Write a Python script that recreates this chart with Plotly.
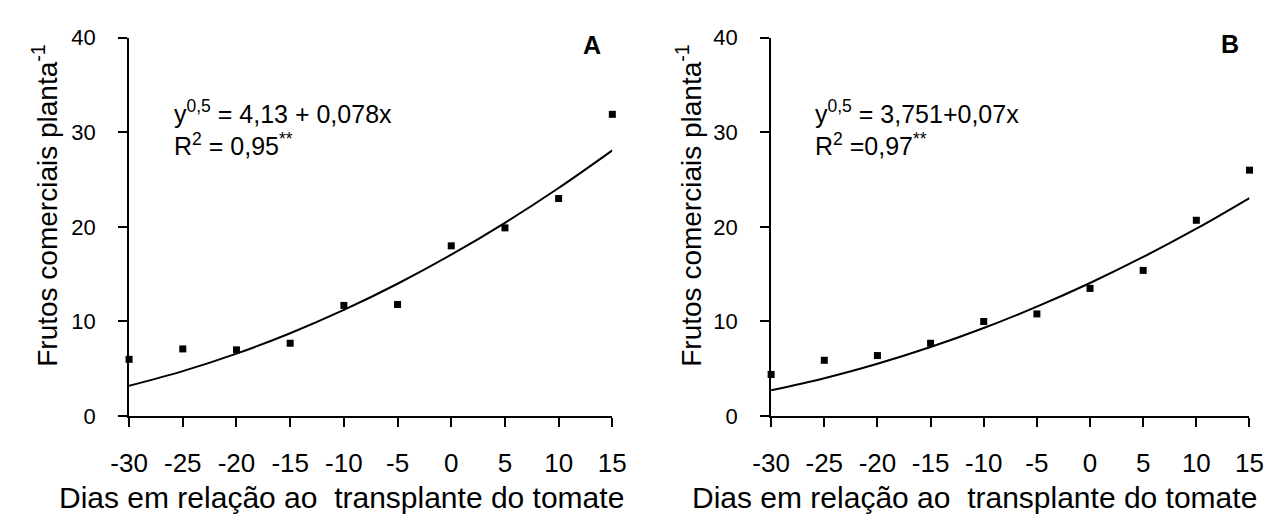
import plotly.graph_objects as go

# ---- data ----
dias = [-30, -25, -20, -15, -10, -5, 0, 5, 10, 15]
frutos_A = [6.0, 7.1, 7.0, 7.7, 11.7, 11.8, 18.0, 19.9, 23.0, 31.9]
frutos_B = [4.4, 5.9, 6.4, 7.7, 10.0, 10.8, 13.5, 15.4, 20.7, 26.0]
# fitted curve values read along the regression line of each panel
ajuste_A = [3.20, 4.75, 6.60, 8.76, 11.22, 13.99, 17.06, 20.43, 24.11, 28.09]
ajuste_B = [2.73, 4.00, 5.53, 7.30, 9.31, 11.57, 14.07, 16.82, 19.81, 23.05]
x_ticks = [-30, -25, -20, -15, -10, -5, 0, 5, 10, 15]
x_tick_text = ["-30", "-25", "-20", "-15", "-10", "-5", "0", "5", "10", "15"]
y_ticks = [0, 10, 20, 30, 40]
y_tick_text = ["0", "10", "20", "30", "40"]
eq_A = "y<sup>0,5</sup> = 4,13 + 0,078x<br>R<sup>2</sup> = 0,95<sup>**</sup>"
eq_B = "y<sup>0,5</sup> = 3,751+0,07x<br>R<sup>2</sup> =0,97<sup>**</sup>"
x_title = "Dias em relação ao  transplante do tomate"
y_title = "Frutos comerciais planta<sup>-1</sup>"

W, H = 1282, 532
FONT = "Liberation Sans, Arial, sans-serif"

fig = go.Figure()
for xa, ya, pts, fit in [("x", "y", frutos_A, ajuste_A), ("x2", "y2", frutos_B, ajuste_B)]:
    fig.add_trace(go.Scatter(x=dias, y=fit, mode="lines", line=dict(color="black", width=2, shape="spline"),
                             xaxis=xa, yaxis=ya, showlegend=False, hoverinfo="skip"))
    fig.add_trace(go.Scatter(x=dias, y=pts, mode="markers",
                             marker=dict(symbol="square", size=7, color="black"),
                             xaxis=xa, yaxis=ya, showlegend=False, cliponaxis=False))

def px(v):
    return v / W

def py(v):
    return 1 - v / H

xcommon = dict(range=[-30, 15], tickmode="array", tickvals=x_ticks, ticktext=x_tick_text,
               showgrid=False, zeroline=False,
               showline=True, linecolor="black", linewidth=2, ticks="outside", ticklen=9, tickwidth=2,
               tickcolor="black", tickfont=dict(family=FONT, size=26, color="black"),
               ticklabelstandoff=14)
ycommon = dict(range=[0, 40], tickmode="array", tickvals=y_ticks, ticktext=y_tick_text,
               showgrid=False, zeroline=False,
               showline=True, linecolor="black", linewidth=2, ticks="outside", ticklen=9, tickwidth=2,
               tickcolor="black", tickfont=dict(family=FONT, size=22, color="black"),
               ticklabelstandoff=18, domain=[py(424), py(27)])

fig.update_layout(
    width=W, height=H, margin=dict(l=0, r=0, t=0, b=0),
    paper_bgcolor="white", plot_bgcolor="white",
    xaxis=dict(domain=[px(113), px(609)], anchor="y", **xcommon),
    yaxis=dict(anchor="x", **ycommon),
    xaxis2=dict(domain=[px(772), px(1263)], anchor="y2", **xcommon),
    yaxis2=dict(anchor="x2", **ycommon),
)

anns = [
    dict(text=eq_A, x=px(157), y=py(86), xanchor="left", yanchor="top", align="left",
         font=dict(family=FONT, size=25, color="black")),
    dict(text=eq_B, x=px(815), y=py(86), xanchor="left", yanchor="top", align="left",
         font=dict(family=FONT, size=25, color="black")),
    dict(text="<b>A</b>", x=px(588), y=py(35), xanchor="center", yanchor="middle",
         font=dict(family=FONT, size=25, color="black")),
    dict(text="<b>B</b>", x=px(1243), y=py(34), xanchor="center", yanchor="middle",
         font=dict(family=FONT, size=25, color="black")),
    dict(text=x_title, x=px(331), y=py(509), xanchor="center", yanchor="middle",
         font=dict(family=FONT, size=30, color="black")),
    dict(text=x_title, x=px(981), y=py(509), xanchor="center", yanchor="middle",
         font=dict(family=FONT, size=30, color="black")),
    dict(text=y_title, x=px(27), y=py(203), xanchor="center", yanchor="middle", textangle=-90,
         font=dict(family=FONT, size=28, color="black")),
    dict(text=y_title, x=px(688), y=py(203), xanchor="center", yanchor="middle", textangle=-90,
         font=dict(family=FONT, size=28, color="black")),
]
for a in anns:
    a.update(xref="paper", yref="paper", showarrow=False)
fig.update_layout(annotations=anns)

fig.write_html("out.html")
